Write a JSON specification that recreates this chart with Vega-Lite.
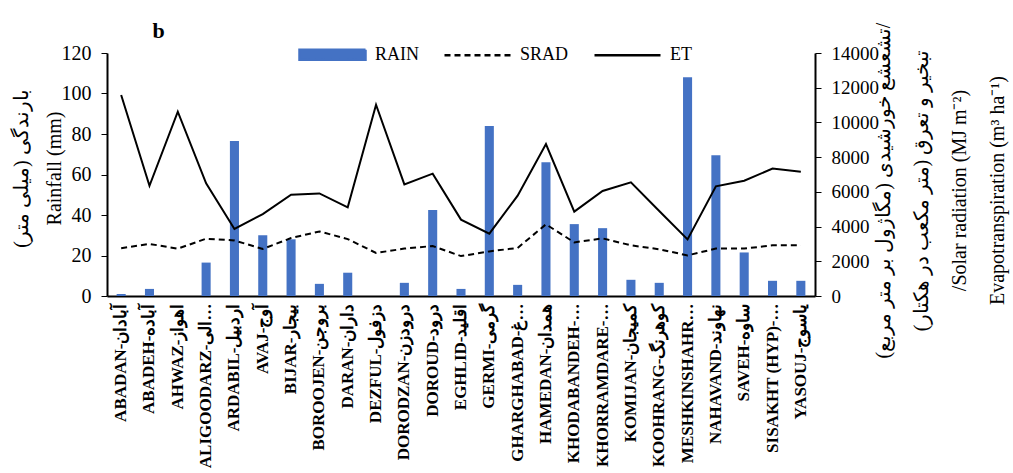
{
  "$schema": "https://vega.github.io/schema/vega-lite/v6.json",
  "width": 708,
  "height": 243,
  "autosize": {"type": "none"},
  "padding": {"left": 107, "top": 53, "right": 198, "bottom": 177},
  "background": "white",
  "config": {
    "view": {"stroke": null},
    "axis": {"grid": false, "domainColor": "black", "domainWidth": 2, "tickColor": "black", "labelColor": "black", "titleColor": "black", "labelFont": "Liberation Serif", "titleFont": "Liberation Serif", "titleFontWeight": "normal"}
  },
  "data": {
    "values": [
      {"station": "ABADAN-آبادان", "rain": 1, "srad": 2750, "et": 11580},
      {"station": "ABADEH-آباده", "rain": 3.5, "srad": 3000, "et": 6350},
      {"station": "AHWAZ-اهواز", "rain": 0, "srad": 2730, "et": 10620},
      {"station": "ALIGOODARZ-الیگودرز", "rain": 16.5, "srad": 3300, "et": 6490},
      {"station": "ARDABIL-اردبیل", "rain": 76.5, "srad": 3200, "et": 3860},
      {"station": "AVAJ-آوج", "rain": 30, "srad": 2710, "et": 4720},
      {"station": "BIJAR-بیجار", "rain": 28, "srad": 3340, "et": 5840},
      {"station": "BOROOJEN-بروجن", "rain": 6, "srad": 3720, "et": 5910},
      {"station": "DARAN-داران", "rain": 11.5, "srad": 3280, "et": 5110},
      {"station": "DEZFUL-دزفول", "rain": 0, "srad": 2480, "et": 11020},
      {"station": "DORODZAN-درودزن", "rain": 6.5, "srad": 2730, "et": 6430},
      {"station": "DOROUD-درود", "rain": 42.5, "srad": 2880, "et": 7050},
      {"station": "EGHLID-اقلید", "rain": 3.5, "srad": 2300, "et": 4400},
      {"station": "GERMI-گرمی", "rain": 84, "srad": 2570, "et": 3590},
      {"station": "GHARGHABAD-غرق آباد", "rain": 5.5, "srad": 2770, "et": 5780},
      {"station": "HAMEDAN-همدان", "rain": 66, "srad": 4130, "et": 8750},
      {"station": "KHODABANDEH-خدابنده", "rain": 35.5, "srad": 3090, "et": 4860},
      {"station": "KHORRAMDARE-خرمدره", "rain": 33.5, "srad": 3320, "et": 6050},
      {"station": "KOMIJAN-کمیجان", "rain": 8, "srad": 2920, "et": 6550},
      {"station": "KOOHRANG-کوهرنگ", "rain": 6.5, "srad": 2690, "et": 4900},
      {"station": "MESHKINSHAHR-مشکین شهر", "rain": 108, "srad": 2340, "et": 3260},
      {"station": "NAHAVAND-نهاوند", "rain": 69.5, "srad": 2730, "et": 6320},
      {"station": "SAVEH-ساوه", "rain": 21.5, "srad": 2730, "et": 6640},
      {"station": "SISAKHT (HYP)-سی سخت", "rain": 7.5, "srad": 2920, "et": 7340},
      {"station": "YASOUJ-یاسوج", "rain": 7.5, "srad": 2920, "et": 7160}
    ]
  },
  "encoding": {
    "x": {
      "field": "station", "type": "nominal", "sort": null,
      "scale": {"paddingInner": 0.68, "paddingOuter": 0.34},
      "axis": {"title": "b", "titleFont": "Liberation Serif", "titleFontSize": 22, "titleFontWeight": "bold", "titleX": 51, "titleY": -259, "titleBaseline": "alphabetic", "titleAlign": "center", "titleAngle": 0,
        "labelAngle": -90, "labelFontSize": 17, "labelFontWeight": "bold", "labelLimit": 165, "ticks": false, "labelPadding": 7}
    }
  },
  "layer": [
    {
      "mark": {"type": "bar"},
      "encoding": {
        "y": {
          "field": "rain", "type": "quantitative",
          "scale": {"domain": [0, 120]},
          "axis": {"values": [0, 20, 40, 60, 80, 100, 120], "labelFontSize": 20, "tickSize": 6, "labelPadding": 10,
            "title": ["بارندگی (میلی متر)", "Rainfall (mm)"], "titleFont": "Liberation Serif", "titleFontSize": 20, "titleLineHeight": 33,
            "titleX": -96, "titleY": 115, "titleAngle": -90, "titleBaseline": "top", "titleAlign": "center"}
        },
        "color": {
          "datum": "RAIN",
          "scale": {"domain": ["RAIN", "SRAD", "ET"], "range": ["#4472C4", "black", "black"]},
          "legend": {
            "orient": "none", "legendX": 191, "legendY": -33, "direction": "horizontal", "title": null,
            "symbolSize": 4356, "labelFont": "Liberation Serif", "labelFontSize": 18, "labelColor": "black",
            "columnPadding": 20, "labelOffset": 8,
            "encode": {"symbols": {"update": {
              "shape": {"signal": "datum.value === 'RAIN' ? 'M-1,-0.15H1V0.15H-1Z' : 'stroke'"},
              "fill": {"signal": "datum.value === 'RAIN' ? '#4472C4' : 'transparent'"},
              "stroke": {"signal": "datum.value === 'RAIN' ? 'transparent' : 'black'"},
              "strokeDash": {"signal": "datum.value === 'SRAD' ? [6, 4] : [1, 0]"},
              "strokeWidth": {"value": 2.5},
              "opacity": {"value": 1}
            }}}
          }
        }
      }
    },
    {
      "layer": [
        {
          "mark": {"type": "line", "strokeDash": [6, 4], "strokeWidth": 2},
          "encoding": {
            "y": {
              "field": "srad", "type": "quantitative",
              "scale": {"domain": [0, 14000]},
              "axis": {"orient": "right", "values": [0, 2000, 4000, 6000, 8000, 10000, 12000, 14000], "format": "d", "labelFontSize": 19, "tickSize": 6, "labelPadding": 10,
                "title": ["تشعشع خورشیدی (مگاژول بر متر مربع)/", "تبخیر و تعرق (متر مکعب در هکتار)", "/Solar radiation (MJ m⁻²)", "Evapotranspiration (m³ ha⁻¹)"],
                "titleFont": "Liberation Serif", "titleFontSize": 20, "titleLineHeight": 38, "titleAngle": -90, "titleBaseline": "top", "titleAlign": "center", "titleX": 58, "titleY": 137}
            },
            "color": {"datum": "SRAD"}
          }
        },
        {
          "mark": {"type": "line", "strokeWidth": 2},
          "encoding": {
            "y": {
              "field": "et", "type": "quantitative",
              "scale": {"domain": [0, 14000]},
              "axis": {"orient": "right", "values": [0, 2000, 4000, 6000, 8000, 10000, 12000, 14000], "format": "d", "labelFontSize": 19, "tickSize": 6, "labelPadding": 10,
                "title": ["تشعشع خورشیدی (مگاژول بر متر مربع)/", "تبخیر و تعرق (متر مکعب در هکتار)", "/Solar radiation (MJ m⁻²)", "Evapotranspiration (m³ ha⁻¹)"],
                "titleFont": "Liberation Serif", "titleFontSize": 20, "titleLineHeight": 38, "titleAngle": -90, "titleBaseline": "top", "titleAlign": "center", "titleX": 58, "titleY": 137}
            },
            "color": {"datum": "ET"}
          }
        }
      ]
    }
  ],
  "resolve": {"scale": {"y": "independent"}}
}
